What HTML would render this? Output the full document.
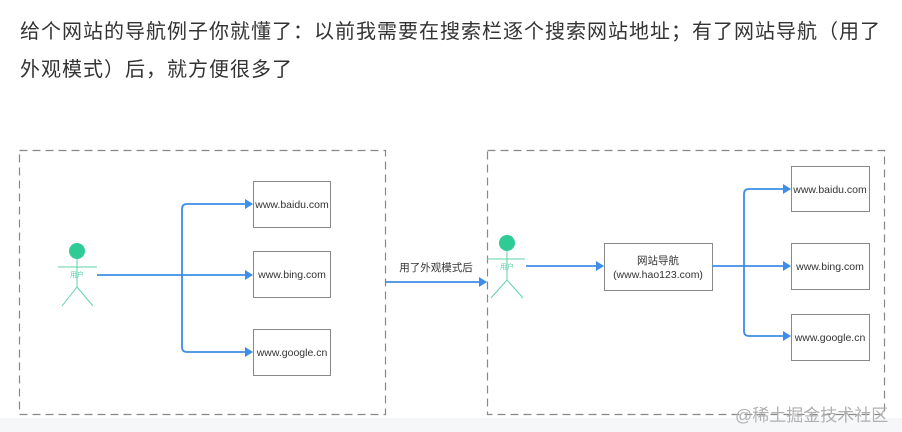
<!DOCTYPE html>
<html><head><meta charset="utf-8"><style>
body{margin:0;width:902px;height:432px;background:#fff;overflow:hidden;position:relative;font-family:"Liberation Sans","Noto Sans CJK SC",sans-serif;}
.t{position:absolute;left:20px;top:13px;white-space:nowrap;font-size:20px;letter-spacing:1px;line-height:38px;color:#333;}
.band{position:absolute;left:0;top:418px;width:902px;height:14px;background:#f6f7f9;}
.wm{position:absolute;left:735px;top:401px;font-size:17px;color:#b0b0b0;}
</style></head><body>
<div class="t">给个网站的导航例子你就懂了：以前我需要在搜索栏逐个搜索网站地址；有了网站导航（用了<br>外观模式）后，就方便很多了</div>
<div class="band"></div>
<svg width="902" height="432" style="position:absolute;left:0;top:0" font-family="Liberation Sans, Noto Sans CJK SC, sans-serif">
<defs><marker id="a" markerWidth="8" markerHeight="10" refX="7" refY="5" orient="auto" markerUnits="userSpaceOnUse"><path d="M0,0 L8,5 L0,10 Z" fill="#3d8ee8"/></marker></defs>
<g fill="none" stroke="#888" stroke-width="1.2" stroke-dasharray="8,5">
<rect x="19.5" y="150.5" width="366" height="264"/>
<rect x="487.5" y="150.5" width="397" height="264"/>
</g>
<g fill="#fff" stroke="#888" stroke-width="1">
<rect x="253.5" y="181.5" width="77" height="46"/>
<rect x="253.5" y="251.5" width="77" height="46"/>
<rect x="253.5" y="329.5" width="77" height="46"/>
<rect x="604.5" y="243.5" width="108" height="47"/>
<rect x="791.5" y="166.5" width="78" height="45"/>
<rect x="791.5" y="243.5" width="78" height="46"/>
<rect x="791.5" y="314.5" width="78" height="46"/>
</g>
<g fill="none" stroke="#3d8ee8" stroke-width="1.8">
<path d="M97,275 H252" marker-end="url(#a)"/>
<path d="M182,275 V209 Q182,204 187,204 H252" marker-end="url(#a)"/>
<path d="M182,275 V347 Q182,352 187,352 H252" marker-end="url(#a)"/>
<path d="M385,282 H486" marker-end="url(#a)"/>
<path d="M526,266 H603" marker-end="url(#a)"/>
<path d="M712,266 H790" marker-end="url(#a)"/>
<path d="M744,266 V194 Q744,189 749,189 H790" marker-end="url(#a)"/>
<path d="M744,266 V331 Q744,336 749,336 H790" marker-end="url(#a)"/>
</g>
<g stroke="#5fd3aa" stroke-width="1" fill="none">
<line x1="58" y1="267" x2="97" y2="267"/><line x1="77" y1="259" x2="77" y2="287"/>
<polyline points="62,306 77,287 93,306"/>
<line x1="487" y1="259" x2="525" y2="259"/><line x1="507" y1="251" x2="507" y2="280"/>
<polyline points="491,298 507,280 523,298"/>
</g>
<circle cx="77" cy="251" r="8" fill="#2ecc94"/><circle cx="507" cy="243" r="8" fill="#2ecc94"/>
<text x="77" y="277" font-size="7" fill="#5fd3aa" text-anchor="middle">用户</text>
<text x="507" y="269" font-size="7" fill="#5fd3aa" text-anchor="middle">用户</text>
<g font-size="10.5" fill="#333" text-anchor="middle">
<text x="292" y="208">www.baidu.com</text>
<text x="292" y="278">www.bing.com</text>
<text x="292" y="356">www.google.cn</text>
<text x="658" y="264">网站导航</text>
<text x="658" y="278">(www.hao123.com)</text>
<text x="830" y="193">www.baidu.com</text>
<text x="830" y="270">www.bing.com</text>
<text x="830" y="341">www.google.cn</text>
<text x="436" y="271">用了外观模式后</text>
</g>
</svg>
<div class="wm">@稀土掘金技术社区</div>
</body></html>
